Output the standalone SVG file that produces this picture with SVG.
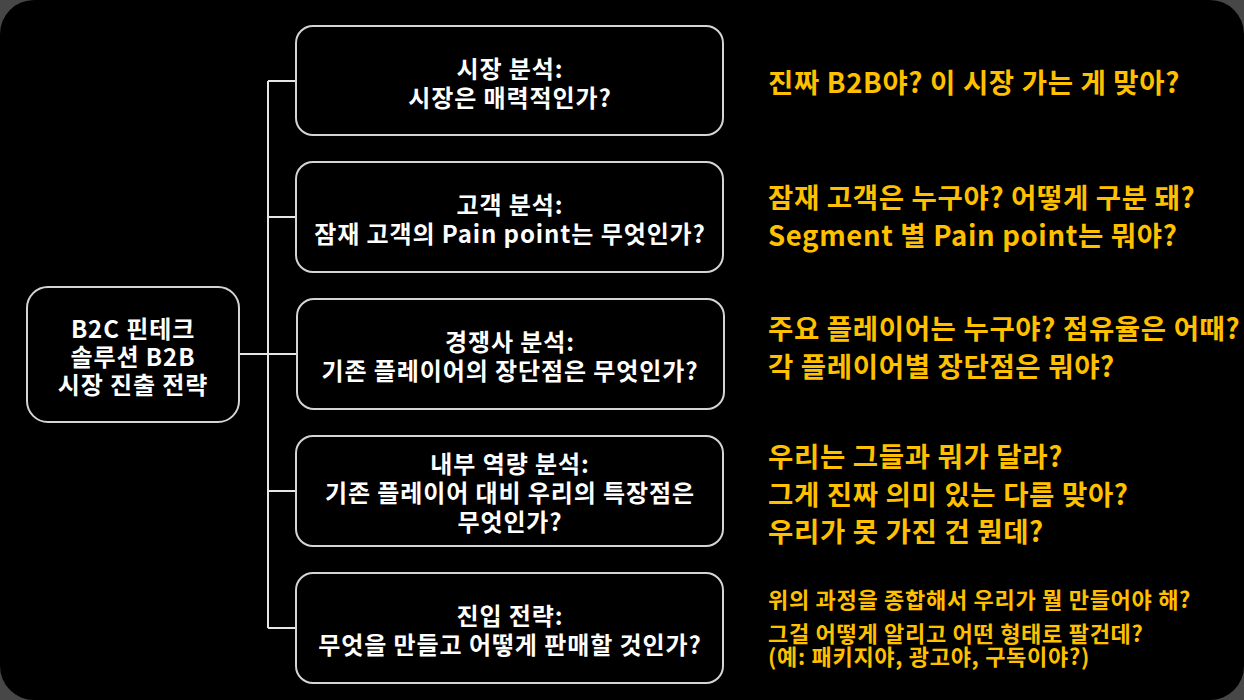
<svg xmlns="http://www.w3.org/2000/svg" width="1244" height="700" viewBox="0 0 1244 700">
<style>
.node rect{fill:#000;stroke:#d4d4d4;stroke-width:2}
.wt{fill:#fff;font-family:"Noto Sans CJK KR","Noto Sans",sans-serif;font-weight:bold;font-size:24px;letter-spacing:0.9px;text-anchor:middle;dominant-baseline:central}
.yt{fill:#FFC000;font-family:"Noto Sans CJK KR","Noto Sans",sans-serif;font-weight:bold;font-size:27.5px;letter-spacing:0.65px;dominant-baseline:central}
.ys{font-size:22px;letter-spacing:0.7px}
.conn{stroke:#e6e6e6;stroke-width:2;fill:none}
</style>
<rect x="0" y="0" width="1244" height="700" fill="#474747"/>
<rect x="0" y="0" width="1244" height="700" rx="34" fill="#000"/>
<g id="connectors" class="conn">
<line x1="268" y1="81" x2="268" y2="628"/>
<line x1="239" y1="354" x2="296" y2="354"/>
<line x1="268" y1="81" x2="296" y2="81"/>
<line x1="268" y1="217" x2="296" y2="217"/>
<line x1="268" y1="491" x2="296" y2="491"/>
<line x1="268" y1="628" x2="296" y2="628"/>
</g>
<g id="root" class="node">
<rect x="27" y="287" width="212" height="135" rx="21"/>
<text class="wt"><tspan x="133" y="327">B2C 핀테크</tspan><tspan x="133" y="355">솔루션 B2B</tspan><tspan x="133" y="383">시장 진출 전략</tspan></text>
</g>
<g id="market" class="node">
<rect x="296" y="26" width="427" height="109" rx="17"/>
<text class="wt"><tspan x="510" y="66.5">시장 분석:</tspan><tspan x="510" y="95.5">시장은 매력적인가?</tspan></text>
</g>
<g id="customer" class="node">
<rect x="296" y="162" width="427" height="110" rx="17"/>
<text class="wt"><tspan x="510" y="202.5">고객 분석:</tspan><tspan x="510" y="231.5">잠재 고객의 Pain point는 무엇인가?</tspan></text>
</g>
<g id="competitor" class="node">
<rect x="297" y="299" width="427" height="110" rx="17"/>
<text class="wt"><tspan x="510" y="339.5">경쟁사 분석:</tspan><tspan x="510" y="368.5">기존 플레이어의 장단점은 무엇인가?</tspan></text>
</g>
<g id="internal" class="node">
<rect x="296" y="436" width="427" height="110" rx="17"/>
<text class="wt"><tspan x="510" y="462">내부 역량 분석:</tspan><tspan x="510" y="491">기존 플레이어 대비 우리의 특장점은</tspan><tspan x="510" y="520">무엇인가?</tspan></text>
</g>
<g id="entry" class="node">
<rect x="296" y="573" width="427" height="110" rx="17"/>
<text class="wt"><tspan x="510" y="613.5">진입 전략:</tspan><tspan x="510" y="642.5">무엇을 만들고 어떻게 판매할 것인가?</tspan></text>
</g>
<g id="questions">
<text class="yt" x="768" y="81">진짜 B2B야? 이 시장 가는 게 맞아?</text>
<text class="yt"><tspan x="768" y="196">잠재 고객은 누구야? 어떻게 구분 돼?</tspan><tspan x="768" y="234">Segment 별 Pain point는 뭐야?</tspan></text>
<text class="yt"><tspan x="768" y="327">주요 플레이어는 누구야? 점유율은 어때?</tspan><tspan x="768" y="365">각 플레이어별 장단점은 뭐야?</tspan></text>
<text class="yt"><tspan x="768" y="455">우리는 그들과 뭐가 달라?</tspan><tspan x="768" y="493">그게 진짜 의미 있는 다름 맞아?</tspan><tspan x="768" y="530">우리가 못 가진 건 뭔데?</tspan></text>
<text class="yt ys"><tspan x="768" y="598">위의 과정을 종합해서 우리가 뭘 만들어야 해?</tspan><tspan x="768" y="632">그걸 어떻게 알리고 어떤 형태로 팔건데?</tspan><tspan x="768" y="655">(예: 패키지야, 광고야, 구독이야?)</tspan></text>
</g>
</svg>
